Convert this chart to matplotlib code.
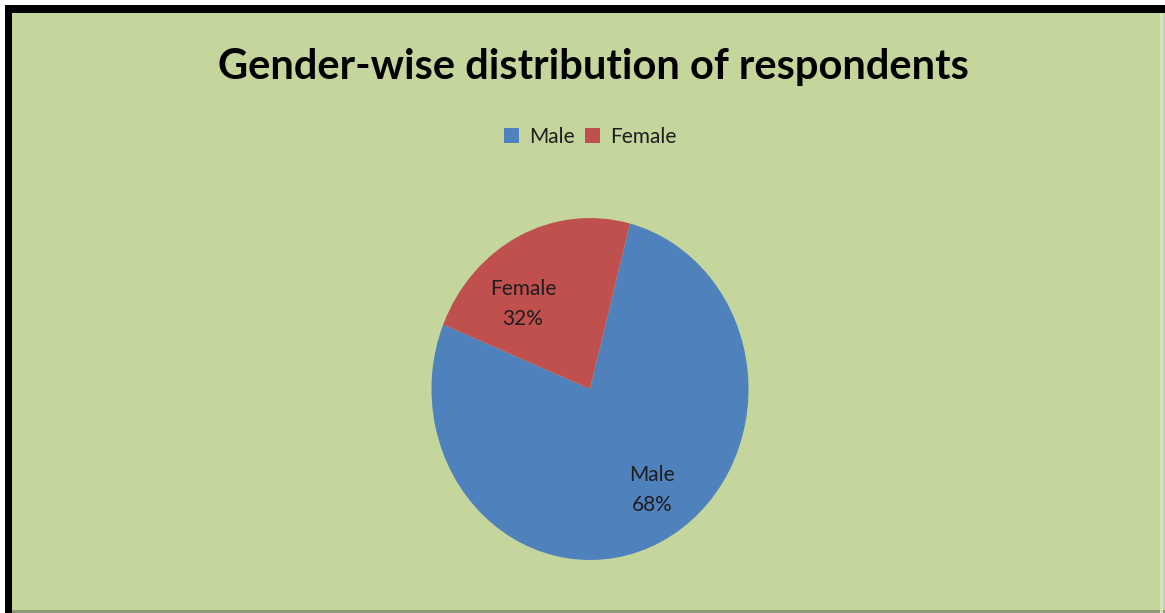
import matplotlib.pyplot as plt
from matplotlib.patches import Patch, Rectangle

# data
categories = ["Male", "Female"]
slice_shares = [77.1, 22.9]          # slice sizes as drawn in the picture
pct_labels = ["68%", "32%"]          # percentages printed on the slices
colors = ["#4F81BD", "#C0504D"]

W, H = 1165, 613
fig = plt.figure(figsize=(W / 100, H / 100), dpi=100)
fig.patch.set_facecolor("#C4D69B")
plt.rcParams["font.family"] = ["Lato", "DejaVu Sans"]


def px_rect(x0, y0, x1, y1, color):
    # rectangle in pixel coords measured from the top-left corner
    fig.add_artist(Rectangle((x0 / W, 1 - y1 / H), (x1 - x0) / W, (y1 - y0) / H,
                             transform=fig.transFigure, facecolor=color,
                             edgecolor="none", zorder=5))


# outer frame: white margin, thick black top/left, thin grey bottom/right
px_rect(0, 0, W, 5, "white")
px_rect(0, 0, 5, H, "white")
px_rect(5, 5, W, 13, "black")
px_rect(5, 5, 12, H, "black")
px_rect(12, 610, W, 613, "#8E9A78")
px_rect(1160, 13, 1163, 613, "#D9E3C4")

# pie axes: slightly taller than wide, as in the picture
cx, cy, rx, ry = 590, 389, 158.5, 171
ax = fig.add_axes([(cx - rx) / W, 1 - (cy + ry) / H, 2 * rx / W, 2 * ry / H])
ax.pie(slice_shares, colors=colors, startangle=75.4, counterclock=False,
       radius=1, wedgeprops=dict(linewidth=0))
ax.set_aspect("auto")
ax.set_xlim(-1, 1)
ax.set_ylim(-1, 1)
ax.axis("off")

# slice labels
label_pos = [(652, 490), (523, 304)]
for name, pct, (lx, ly) in zip(categories, pct_labels, label_pos):
    fig.text(lx / W, 1 - ly / H, f"{name}\n{pct}", ha="center", va="center",
             fontsize=15, color="#1E1E1E", linespacing=1.6)

fig.text(593 / W, 1 - 67 / H, "Gender-wise distribution of respondents",
         ha="center", va="center", fontsize=30, fontweight="bold", color="black")

handles = [Patch(facecolor=c, edgecolor="none") for c in colors]
fig.legend(handles, categories, loc="center", bbox_to_anchor=(590 / W, 1 - 137 / H),
           ncol=2, frameon=False, fontsize=15, handlelength=0.75, handleheight=0.75,
           handletextpad=0.45, columnspacing=0.5, labelcolor="#1E1E1E")

fig.savefig("out.png", dpi=100, facecolor=fig.get_facecolor())
